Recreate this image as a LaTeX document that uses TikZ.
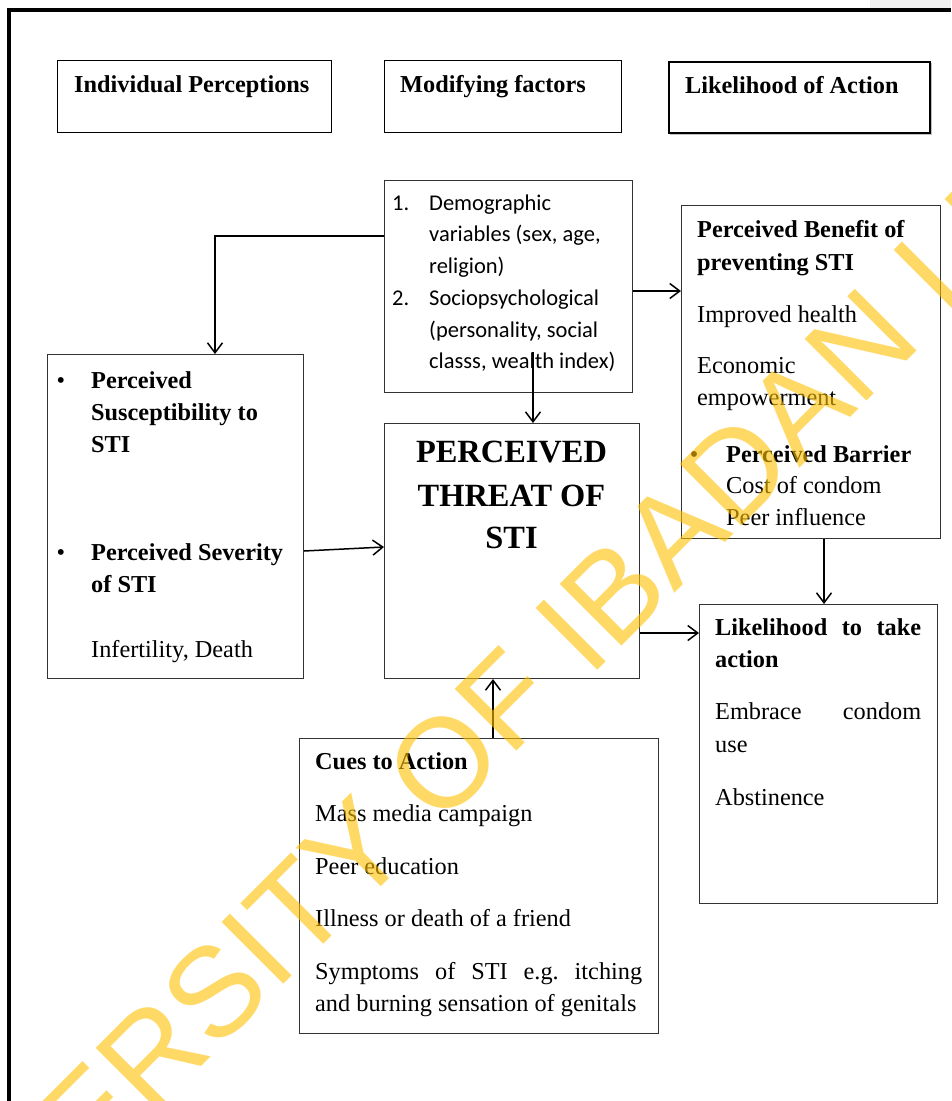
\documentclass[tikz,border=0pt]{standalone}
\usepackage{fontspec}
\setmainfont{Liberation Serif}
\newfontfamily\calfont{Carlito}
\newfontfamily\wmfont{Liberation Sans}
\usetikzlibrary{arrows.meta,calc}
\definecolor{wmgold}{RGB}{255,192,0}
\frenchspacing
\begin{document}
\begin{tikzpicture}[x=1pt,y=-1pt,
  box/.style={draw=black!80, line width=1pt, rectangle, inner sep=0pt, anchor=north west},
  txt/.style={anchor=base west, inner sep=0pt, font=\fontsize{24.3}{32}\selectfont},
  btxt/.style={anchor=base west, inner sep=0pt, font=\fontsize{24.3}{32}\selectfont\bfseries},
  bul/.style={anchor=base, inner sep=0pt, font=\fontsize{24.3}{32}\selectfont},
  ctxt/.style={anchor=base west, inner sep=0pt, font=\calfont\fontsize{22.5}{31.6}\selectfont},
  ttxt/.style={anchor=base, inner sep=0pt, font=\fontsize{32.4}{43}\selectfont\bfseries},
  conn/.style={line width=1.5pt, -{Straight Barb[length=10pt,width=15pt,line width=1.5pt]}},
  wm/.style={anchor=base west, inner sep=0pt, rotate=45, text=wmgold, text opacity=0.6,
    font=\wmfont\fontsize{127}{127}\selectfont}]
\useasboundingbox (0,0) rectangle (951,1101);
\fill[white] (0,0) rectangle (951,1101);
% page frame
\fill[black!6] (870,0) rectangle (951,8);
\draw[line width=4pt] (9,1101) -- (9,10) -- (951,10);
% header boxes
\node[box, line width=1.2pt, draw=black, minimum width=274pt, minimum height=72pt] (h1) at (57,60) {};
\node[box, line width=1.2pt, draw=black, minimum width=237pt, minimum height=72pt] (h2) at (384,60) {};
\draw[black!25, line width=1.5pt] (670,134) -- (931,134) -- (931,63);
\node[box, line width=2pt, draw=black, minimum width=261pt, minimum height=71pt] (h3) at (668,61) {};
% main boxes
\node[box, minimum width=248pt, minimum height=212pt] (mod) at (384,180) {};
\node[box, minimum width=259pt, minimum height=333pt] (ben) at (681,205) {};
\node[box, minimum width=256pt, minimum height=324pt] (sus) at (47,354) {};
\node[box, minimum width=255pt, minimum height=255pt] (thr) at (384,423) {};
\node[box, minimum width=238pt, minimum height=299pt] (lik) at (699,604) {};
\node[box, minimum width=359pt, minimum height=295pt] (cue) at (299,738) {};
% bold texts
\foreach \n/\x/\y/\t in {b1/74/92/{Individual Perceptions}, b2/400/92/{Modifying factors},
  b3/685/93/{Likelihood of Action}, b4/697/237/{Perceived Benefit of}, b5/697/270/{preventing STI},
  b6/726/462/{Perceived Barrier}, b7/91/388/{Perceived}, b8/91/420/{Susceptibility to},
  b9/91/452/{STI}, b10/91/560/{Perceived Severity}, b11/91/592/{of STI}, b12/715/667/{action},
  b13/315/769/{Cues to Action}}
  \node[btxt] (\n) at (\x,\y) {\t};
\node[btxt] (j3) at (715,635) {\makebox[206pt][s]{Likelihood to take}};
% regular texts
\foreach \n/\x/\y/\t in {r1/697/322/{Improved health}, r2/697/373/{Economic}, r3/697/405/{empowerment},
  r4/726/493/{Cost of condom}, r5/726/525/{Peer influence}, r6/91/657/{Infertility, Death},
  r7/715/752/{use}, r8/715/805/{Abstinence}, r9/315/821/{Mass media campaign},
  r10/315/874/{Peer education}, r11/315/926/{Illness or death of a friend},
  r12/315/1011/{and burning sensation of genitals}}
  \node[txt] (\n) at (\x,\y) {\t};
\node[txt] (j1) at (715,719) {\makebox[206pt][s]{Embrace condom}};
\node[txt] (j2) at (315,979) {\makebox[327pt][s]{Symptoms of STI e.g. itching}};
% bullets
\node[bul] (u1) at (61,388) {•};
\node[bul] (u2) at (61,560) {•};
\node[bul] (u3) at (694,462) {•};
% threat
\node[ttxt] (th1) at (511.5,462) {PERCEIVED};
\node[ttxt] (th2) at (511.5,506) {THREAT OF};
\node[ttxt] (th3) at (511.5,548) {STI};
% modifying factors list
\foreach \n/\x/\y/\t in {n1/392/210/{1.}, m1/429/210/{Demographic}, m2/429/241/{variables (sex, age,},
  m3/429/273/{religion)}, n2/392/305/{2.}, m4/429/305/{Sociopsychological},
  m5/429/337/{(personality, social}, m6/429/368/{classs, wealth index)}}
  \node[ctxt] (\n) at (\x,\y) {\t};
% connectors
\draw[conn] ($(mod.north west)+(0,56)$) -| ($(sus.north west)+(168,0)$);
\draw[conn] ($(mod.north east)+(0,111)$) -- ($(ben.north west)+(0,86)$);
\coordinate (mi) at (533,352);
\draw[conn] (mi) -- (mi |- thr.north);
\draw[conn] ($(sus.north east)+(0,197)$) -- ($(thr.north west)+(0,124)$);
\draw[conn] ($(thr.north east)+(0,210)$) -- ($(lik.north west)+(0,29)$);
\draw[conn] ($(ben.south west)+(143,0)$) -- ($(lik.north west)+(125,0)$);
\draw[conn] ($(cue.north west)+(194,0)$) -- ($(thr.south west)+(109,0)$);
% watermark
\begin{scope}
\clip (0,0) rectangle (951,1101);
\node[wm] (wm) at (-124,1392) {UNIVERSITY OF IBADAN LIBRARY};
\end{scope}
\end{tikzpicture}
\end{document}
